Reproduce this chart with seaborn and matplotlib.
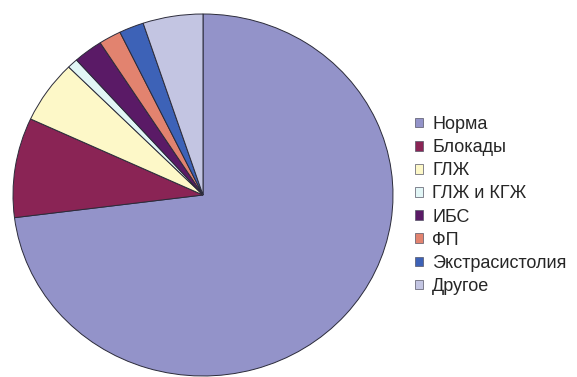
import matplotlib
matplotlib.use("Agg")
import matplotlib.pyplot as plt
import matplotlib.patches as mpatches
import seaborn as sns

categories = ["Норма", "Блокады", "ГЛЖ", "ГЛЖ и КГЖ", "ИБС", "ФП", "Экстрасистолия", "Другое"]
values = [73.0, 8.9, 5.6, 0.9, 2.5, 1.9, 2.1, 5.1]
colors = ["#9393c9", "#8a2455", "#fdf8c8", "#e2f6f6", "#5a1a66", "#e2836f", "#3d62b7", "#c3c5e2"]

sns.set_theme(style="white")
plt.rcParams["font.family"] = ["Liberation Sans", "DejaVu Sans"]

fig = plt.figure(figsize=(5.77, 3.77), dpi=100)
ax = fig.add_axes([13 / 577, 1 / 377, 380 / 577, 362 / 377])
wedges, _ = ax.pie(values, colors=colors, startangle=90, counterclock=False,
                   wedgeprops=dict(edgecolor="#2b2b3a", linewidth=0.7))
ax.set_aspect("auto")
ax.set_xlim(-1.0, 1.0)
ax.set_ylim(-1.0, 1.0)
ax.axis("off")

handles = [mpatches.Patch(facecolor=c, edgecolor="#555566", linewidth=0.5) for c in colors]
fig.legend(handles, categories, loc="upper left", bbox_to_anchor=(415 / 577, 1 - 116 / 377),
           frameon=False, fontsize=13, handlelength=0.45, handleheight=0.45,
           handletextpad=0.5, labelspacing=0.34, borderpad=0, borderaxespad=0)

fig.savefig("out.png", dpi=100)
